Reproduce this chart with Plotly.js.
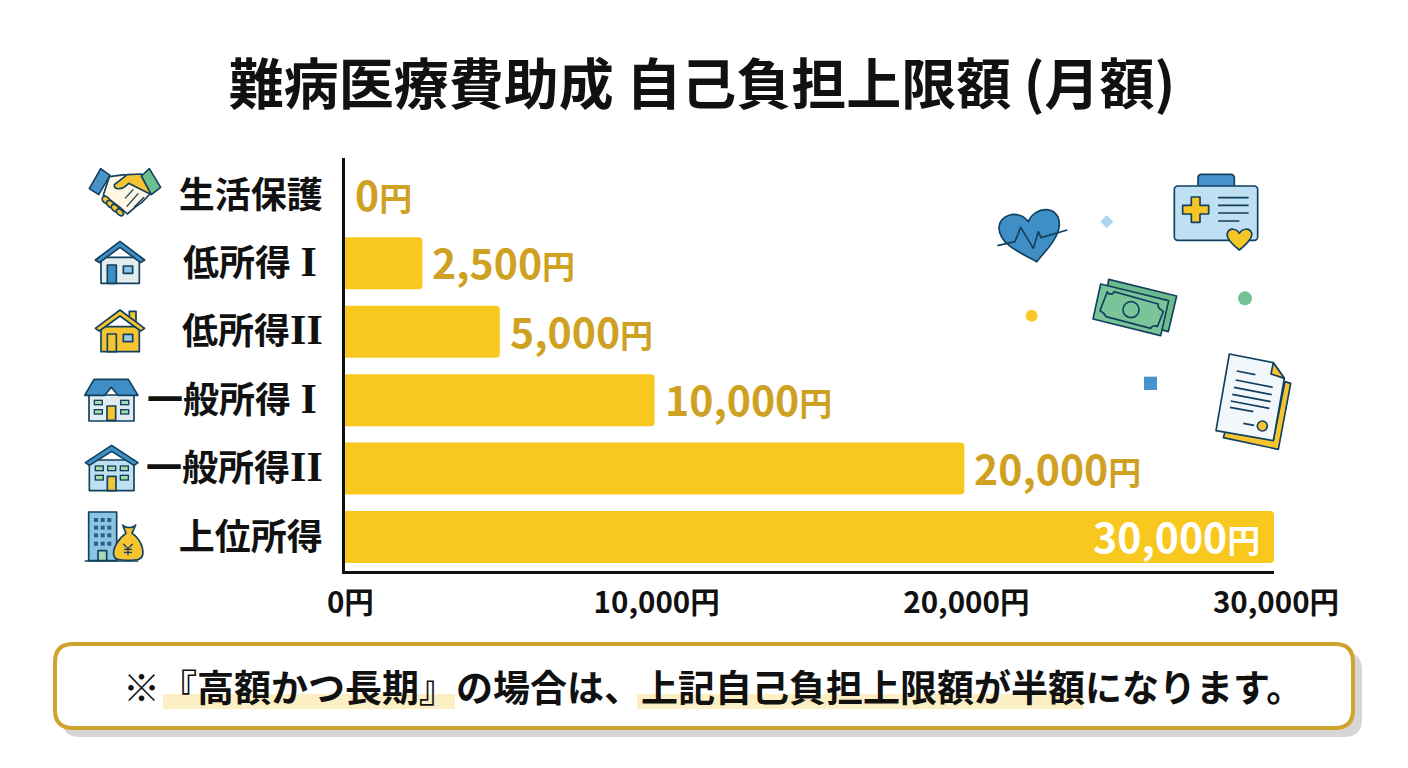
<!DOCTYPE html>
<html><head><meta charset="utf-8">
<script src="https://cdn.plot.ly/plotly-3.0.1.min.js"></script>
<style>html,body{margin:0;padding:0;background:#fff}#c{width:1408px;height:768px}</style>
</head><body><div id="c"></div>
<script>
const FONT = '"Noto Sans CJK JP","Noto Sans",sans-serif';
const categories = ['生活保護','低所得Ⅰ','低所得Ⅱ','一般所得Ⅰ','一般所得Ⅱ','上位所得'];
const values = [0,2500,5000,10000,20000,30000];
const valueLabels = ['0','2,500','5,000','10,000','20,000','30,000'];
const xTicks = [0,10000,20000,30000];
const xTickLabels = ['\u00A00円','10,000円','20,000円','30,000円'];
const titleText = '難病医療費助成 自己負担上限額 (月額)';
const noteText = '※『高額かつ長期』の場合は、上記自己負担上限額が半額になります。';

const L=345,R=1274,T=158,B=571;
const PX=x=>(x-L)/(R-L), PY=y=>(B-y)/(B-T);
const D='#12405f';

const roman=(s,gap,tail)=>`${gap?'<span style="font-size:42px">\u00A0</span>':''}<span style="font-family:'Liberation Serif',serif;font-size:42px">${s}</span>${tail?'<span style="font-size:26px">\u00A0</span>':''}`;
const yTickLabels=categories.map(c=>c.replace('Ⅰ',roman('I',true,true)).replace('Ⅱ',roman('II',false,false)));

function icon(ox,oy,bx,by,bw,bh,inner){
  const svg=`<svg xmlns="http://www.w3.org/2000/svg" width="${bw}" height="${bh}" viewBox="${bx} ${by} ${bw} ${bh}">${inner}</svg>`;
  return {source:'data:image/svg+xml;charset=utf-8,'+encodeURIComponent(svg),xref:'paper',yref:'paper',
    x:PX(ox+bx/3),y:PY(oy+by/3),sizex:bw/3/(R-L),sizey:bh/3/(B-T),xanchor:'left',yanchor:'top',sizing:'stretch',layer:'above'};
}
const S=`stroke="${D}" stroke-width="5" stroke-linejoin="round"`;
const images=[
 icon(70,150,45,45,240,160,`
  <path d="M118 80L165 74L205 100L240 132L215 158L195 172L172 192L150 172L100 135Z" fill="#FFF6E4" ${S}/>
  <path d="M214 72L172 74L133 104C130 122 158 120 176 100L240 132L246 124Z" fill="#F5C430" ${S}/>
  <g fill="#F5C430" ${S}><ellipse cx="108" cy="150" rx="13" ry="9" transform="rotate(40 108 150)"/><ellipse cx="122" cy="163" rx="14" ry="9" transform="rotate(40 122 163)"/><ellipse cx="136" cy="175" rx="14" ry="9" transform="rotate(40 136 175)"/><ellipse cx="150" cy="187" rx="12" ry="8" transform="rotate(40 150 187)"/></g>
  <path d="M205 130L170 170M190 118L165 145M222 142L192 172" stroke="${D}" stroke-width="4" fill="none"/>
  <path d="M92 56L120 76L86 134L58 116Z" fill="#4A93C6" ${S}/>
  <path d="M238 56L272 112L244 134L214 78Z" fill="#6FBE8E" ${S}/>`),
 icon(70,150,65,262,170,148,`
  <rect x="93" y="322" width="115" height="78" fill="#E3ECEF" ${S}/>
  <rect x="112" y="345" width="27" height="55" fill="#3F8FC6" ${S}/>
  <rect x="160" y="348" width="28" height="22" fill="#8FC4E6" ${S}/>
  <path d="M76 330L150 274L224 330L212 338L150 292L88 338Z" fill="#3F8FC6" ${S}/>`),
 icon(70,150,65,470,170,145,`
  <rect x="178" y="484" width="20" height="34" fill="#F5C430" ${S}/>
  <rect x="93" y="530" width="115" height="75" fill="#F5C430" ${S}/>
  <rect x="112" y="552" width="27" height="53" fill="#F5C430" ${S}/>
  <rect x="160" y="553" width="28" height="22" fill="#9CC8E8" ${S}/>
  <path d="M76 535L150 480L224 535L212 543L150 498L88 543Z" fill="#F5C430" ${S}/>`),
 icon(70,360,35,50,178,140,`
  <rect x="57" y="105" width="135" height="78" fill="#DFEDF2" ${S}/>
  <path d="M72 58L175 58L204 106L144 106L124 82L104 106L44 106Z" fill="#3F8FC6" ${S}/>
  <rect x="111" y="138" width="26" height="43" fill="#F5C430" ${S}/>
  <g fill="#A9D8B4" stroke="${D}" stroke-width="4"><rect x="73" y="121" width="24" height="13"/><rect x="73" y="149" width="24" height="13"/><rect x="152" y="121" width="24" height="13"/><rect x="152" y="149" width="24" height="13"/></g>`),
 icon(70,360,35,245,178,155,`
  <rect x="58" y="300" width="134" height="92" fill="#BFE0F0" ${S}/>
  <path d="M46 308L125 256L204 308L192 316L125 274L58 316Z" fill="#3F8FC6" ${S}/>
  <g fill="#A5D9A5" stroke="${D}" stroke-width="4"><rect x="76" y="318" width="24" height="14"/><rect x="113" y="318" width="24" height="14"/><rect x="151" y="318" width="24" height="14"/><rect x="76" y="346" width="24" height="14"/><rect x="151" y="346" width="24" height="14"/></g>
  <rect x="112" y="349" width="26" height="43" fill="#E9C93A" ${S}/>`),
 icon(70,360,40,450,185,160,`
  <rect x="56" y="456" width="84" height="146" fill="#8CC4E4" ${S}/>
  <g fill="#2A5F85">${[474,497,520,545].map(y=>[72,92,112].map(x=>`<rect x="${x}" y="${y}" width="12" height="12"/>`).join('')).join('')}</g>
  <rect x="84" y="572" width="26" height="30" fill="#A9D8B4" ${S}/>
  <path d="M44 603H205" stroke="${D}" stroke-width="4"/>
  <path d="M158 495C165 505 190 505 197 495L186 520C210 535 222 565 218 585C214 600 200 601 175 601C150 601 134 600 131 585C128 565 145 535 168 520Z" fill="#F5C430" ${S}/>
  <path d="M160 552L174 566L188 552M174 566V586M162 568H186M162 577H186" stroke="${D}" stroke-width="4" fill="none"/>`),
 icon(980,170,45,100,225,185,`
  <path d="M170 275C125 250 60 225 57 175C55 135 115 115 145 155C165 105 240 105 238 165C236 205 195 245 170 275Z" fill="#3F8FC6" ${S}/>
  <path d="M52 227L105 215L122 172L160 235L175 185L183 203L262 180" fill="none" stroke="${D}" stroke-width="5" stroke-linejoin="round"/>`),
 icon(980,170,355,130,50,50,`<path d="M380 135L400 155L380 174L361 155Z" fill="#A9D6F0"/>`),
 icon(980,170,130,412,50,50,`<circle cx="155" cy="437" r="18" fill="#FBC92A"/>`),
 icon(980,170,770,360,50,50,`<circle cx="795" cy="385" r="21" fill="#74C295"/>`),
 icon(980,170,488,617,46,46,`<rect x="492" y="620" width="39" height="40" fill="#4793CE"/>`),
 icon(980,170,575,5,265,240,`
  <rect x="654" y="13" width="109" height="50" rx="10" fill="#4793CE" ${S}/>
  <rect x="583" y="48" width="250" height="163" rx="10" fill="#BFE0F2" ${S}/>
  <path d="M634 81H660V106H686V132H660V157H634V132H608V106H634Z" fill="#F7C625" ${S}/>
  <path d="M714 83H806M714 106H806M714 129H806M714 153H778" stroke="${D}" stroke-width="5"/>
  <path d="M778 240C755 222 738 205 742 190C747 172 770 175 778 190C786 175 810 172 815 190C818 205 800 222 778 240Z" fill="#F7C625" ${S}/>`),
 icon(980,170,330,320,270,185,`
  <path d="M386 328L590 378L565 485L370 430Z" fill="#6DBB8D" ${S}/>
  <path d="M362 342L566 392L542 497L339 447Z" fill="#79C499" ${S}/>
  <path d="M382 365C385 375 400 375 402 365L535 402C530 415 545 420 550 425L532 470C525 465 515 468 512 475L378 440C375 430 365 425 360 422Z" fill="#79C499" ${S}/>
  <circle cx="453" cy="419" r="24" fill="#79C499" ${S}/>`),
 icon(980,170,700,545,240,300,`
  <path d="M915 635L932 640L895 838L730 803L735 785L880 810Z" fill="#F5C430" ${S}/>
  <path d="M748 552L880 578L913 625L880 812L708 782Z" fill="#F1F7FB" ${S}/>
  <path d="M880 578L873 612L913 625Z" fill="#F5C430" ${S}/>
  <path d="M770 603L826 614M767 630L878 652M762 652L875 674M757 673L872 695M752 693L868 715M750 712L820 725M790 760L822 766" stroke="${D}" stroke-width="5"/>
  <circle cx="847" cy="768" r="15" fill="#F5C430" ${S}/>`)
];

function rr(x0,y0,x1,y1,r){const a=(x,y)=>`${PX(x)},${PY(y)}`;
  return `M${a(x0+r,y0)}L${a(x1-r,y0)}Q${a(x1,y0)} ${a(x1,y0+r)}L${a(x1,y1-r)}Q${a(x1,y1)} ${a(x1-r,y1)}L${a(x0+r,y1)}Q${a(x0,y1)} ${a(x0,y1-r)}L${a(x0,y0+r)}Q${a(x0,y0)} ${a(x0+r,y0)}Z`;}
const shapes=[
 {type:'path',xref:'paper',yref:'paper',path:rr(62,652,1362,737,18),fillcolor:'#D6D6D6',line:{width:0},layer:'below'},
 {type:'path',xref:'paper',yref:'paper',path:rr(55,644,1353,728,18),fillcolor:'#FFFFFF',line:{color:'#CFA42D',width:4},layer:'below'},
 {type:'rect',xref:'paper',yref:'paper',x0:PX(163),x1:PX(455),y0:PY(694),y1:PY(709),fillcolor:'#FDEFC4',line:{width:0},layer:'below'},
 {type:'rect',xref:'paper',yref:'paper',x0:PX(637),x1:PX(1084),y0:PY(694),y1:PY(709),fillcolor:'#FDEFC4',line:{width:0},layer:'below'}
];

const yen='<span style="font-size:33px">円</span>';
const trace={type:'bar',orientation:'h',y:categories,x:values,width:0.76,
 marker:{color:'#F9C81E',cornerradius:4,line:{width:0}},hoverinfo:'skip'};

const valueAnnotations=values.map((v,i)=>{const inside=v>=30000;return {
  x:v,y:categories[i],xref:'x',yref:'y',showarrow:false,
  xanchor:inside?'right':'left',yanchor:'middle',xshift:inside?-12:8,yshift:2,
  text:valueLabels[i]+yen,
  font:{family:FONT,size:41,weight:700,color:inside?'#FFFFFF':'#CFA122'}};});

const layout={width:1408,height:768,showlegend:false,paper_bgcolor:'#FFFFFF',plot_bgcolor:'rgba(0,0,0,0)',
 margin:{l:L,r:1408-R,t:T,b:768-B,pad:0},
 title:{text:titleText,font:{family:FONT,size:55,weight:700,color:'#111111'},x:702/1408,xanchor:'center',y:1-85/768,yanchor:'middle',xref:'container',yref:'container'},
 xaxis:{range:[0,30000],tickmode:'array',tickvals:xTicks,ticktext:xTickLabels,showgrid:false,zeroline:false,
   showline:true,linecolor:'#111111',linewidth:3,ticks:'',ticklabelstandoff:4,ticklabelshift:2,automargin:false,
   tickfont:{family:FONT,size:29.5,weight:700,color:'#111111'}},
 yaxis:{type:'category',categoryorder:'array',categoryarray:categories,tickmode:'array',tickvals:categories,ticktext:yTickLabels,
   range:[5.497,-0.54],showgrid:false,zeroline:false,
   showline:true,linecolor:'#111111',linewidth:3,ticks:'',ticklabelstandoff:12,automargin:false,
   tickfont:{family:FONT,size:36,weight:700,color:'#111111'}},
 annotations:[...valueAnnotations,{xref:'paper',yref:'paper',x:PX(713),y:PY(686),xanchor:'center',yanchor:'middle',showarrow:false,
   text:noteText,font:{family:FONT,size:37,weight:700,color:'#111111'}}],
 shapes,images};
Plotly.newPlot('c',[trace],layout,{displayModeBar:false,staticPlot:true});
</script></body></html>
